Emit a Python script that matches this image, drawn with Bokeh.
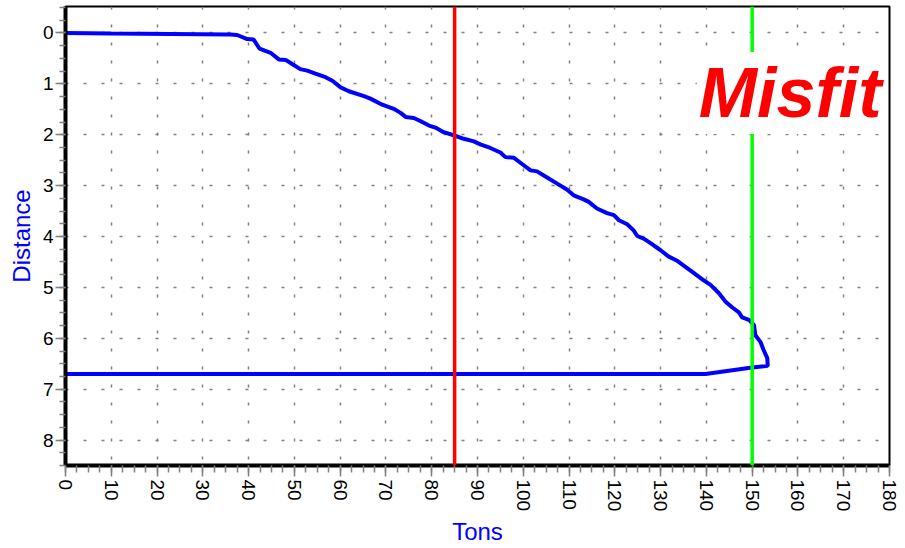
from bokeh.plotting import figure
from bokeh.models import Range1d, SingleIntervalTicker, Span, Label
from bokeh.embed import file_html
from bokeh.resources import INLINE

# Blue curve: Tons vs Distance
tons = [0, 10, 36, 37.5, 39.7, 41.1, 42.4, 44.8, 46.6, 48.1, 49.5, 51.3, 52.8, 54.6, 56.8, 58.3,
        60.1, 61.9, 65.2, 66.6, 69.2, 71.7, 73.2, 74.3, 76.1, 77.5, 79.4, 80.8, 82.6, 84.8, 87.0,
        89.2, 90.6, 92.8, 95.0, 96.1, 97.9, 99.8, 101.6, 103.0, 105.2, 107.4, 109.6, 111.0, 113.2,
        114.3, 116.1, 118.3, 119.8, 120.9, 122.7, 124.1, 124.9, 126.3, 127.8, 130.0, 131.7, 133.5,
        135.2, 137.0, 139.4, 140.9, 142.7, 144.2, 145.6, 147.1, 147.8, 149.3, 150.4, 150.7, 151.8,
        152.5, 153.3, 153.4, 149.6, 139.8, 0]
distance = [0, 0.01, 0.03, 0.04, 0.12, 0.13, 0.31, 0.39, 0.52, 0.53, 0.61, 0.71, 0.74, 0.80, 0.87,
            0.94, 1.07, 1.145, 1.24, 1.29, 1.41, 1.49, 1.57, 1.65, 1.67, 1.73, 1.82, 1.86, 1.95, 2.01,
            2.08, 2.13, 2.19, 2.26, 2.35, 2.44, 2.45, 2.58, 2.70, 2.72, 2.84, 2.96, 3.08, 3.19, 3.27,
            3.32, 3.45, 3.54, 3.58, 3.68, 3.76, 3.88, 3.99, 4.04, 4.13, 4.27, 4.39, 4.47, 4.58, 4.70,
            4.86, 4.95, 5.11, 5.28, 5.39, 5.49, 5.59, 5.64, 5.74, 5.94, 6.07, 6.23, 6.39, 6.54, 6.58,
            6.70, 6.70]

red_line_x = 85
green_line_x = 150
misfit_text = "Misfit"
x_label = "Tons"
y_label = "Distance"

FONT = "Liberation Sans"

p = figure(width=905, height=548, output_backend="svg", toolbar_location=None,
           x_range=Range1d(0, 180), y_range=Range1d(8.5, -0.52),
           min_border_left=65, min_border_right=16, min_border_top=6, min_border_bottom=82,
           background_fill_color="white", border_fill_color="white")

p.outline_line_color = "black"
p.outline_line_width = 2

p.xaxis.ticker = SingleIntervalTicker(interval=10, num_minor_ticks=4)
p.yaxis.ticker = SingleIntervalTicker(interval=1, num_minor_ticks=4)

for ax in (p.xaxis, p.yaxis):
    ax.axis_line_color = "black"
    ax.axis_line_width = 4
    ax.major_tick_line_color = "#808080"
    ax.minor_tick_line_color = "#808080"
    ax.major_tick_line_width = 1.5
    ax.minor_tick_line_width = 1.5
    ax.major_tick_in = 0
    ax.minor_tick_in = 0
    ax.major_label_text_font = FONT
    ax.major_label_text_font_size = "19px"
    ax.major_label_text_color = "black"
    ax.axis_label_text_font = FONT
    ax.axis_label_text_font_size = "24px"
    ax.axis_label_text_font_style = "normal"
    ax.axis_label_text_color = "#0000FF"

p.xaxis.major_tick_out = 11
p.xaxis.minor_tick_out = 7
p.yaxis.major_tick_out = 10
p.yaxis.minor_tick_out = 6
p.xaxis.major_label_orientation = "vertical"
p.xaxis.major_label_standoff = 3
p.yaxis.major_label_standoff = 2
p.xaxis.axis_label = x_label
p.yaxis.axis_label = y_label
p.xaxis.axis_label_standoff = 4
p.yaxis.axis_label_standoff = 5

for g in (p.xgrid, p.ygrid):
    g.grid_line_color = "#808080"
    g.grid_line_width = 1.5
    g.grid_line_dash = "3 15"

p.line(tons, distance, line_color="#0000FF", line_width=4)

p.add_layout(Span(location=red_line_x, dimension="height", line_color="#FF0000", line_width=3.5))
p.add_layout(Span(location=green_line_x, dimension="height", line_color="#00FF00", line_width=3.5))

p.add_layout(Label(x=178.7, y=1.18, text=misfit_text, text_align="right", text_baseline="alphabetic",
                   text_font=FONT, text_font_size="70px", text_font_style="bold italic",
                   text_color="#FF0000", background_fill_color="white", padding=2))

open("out.html", "w").write(file_html(p, INLINE))
